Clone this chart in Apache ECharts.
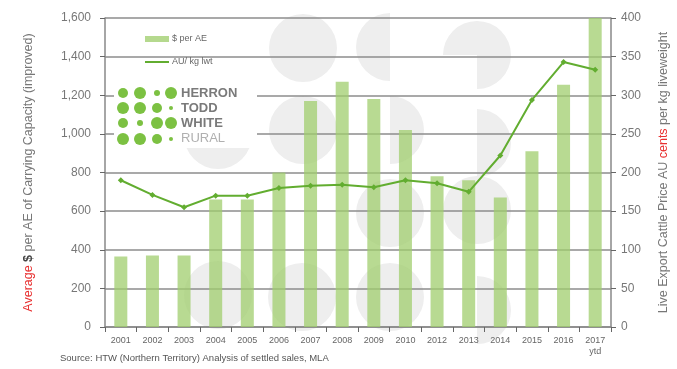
<!DOCTYPE html>
<html><head><meta charset="utf-8">
<script src="https://cdn.jsdelivr.net/npm/echarts@6/dist/echarts.min.js"></script>
<style>html,body{margin:0;padding:0;background:#fff}#c{width:677px;height:369px}</style>
</head><body><div id="c"></div>
<script>
const categories = ['2001','2002','2003','2004','2005','2006','2007','2008','2009','2010','2012','2013','2014','2015','2016','2017\nytd'];
const perAE = [365,370,370,660,660,800,1170,1270,1180,1020,780,760,670,910,1255,1600];
const auKg = [190,171,155,170,170,180,183,184,181,190,186,175,222,294,343,333];
const leftTicks = [0,200,400,600,800,1000,1200,1400,1600];
const rightTicks = [0,50,100,150,200,250,300,350,400];

const chart = echarts.init(document.getElementById('c'));
const G = '#62ad30';
const PI = Math.PI;
const dots = [];
const dotPos = [[123,93],[140,93],[157,93],[171,93],[123,108],[140,108],[157,108],[171,108],[123,123],[140,123],[157,123],[171,123],[123,139],[140,139],[157,139],[171,139]];
const rads = [5,6,3,6,6,6,5,2,5,3,6,6,6,6,5,2];
dotPos.forEach((p,i)=>dots.push({type:'circle',shape:{cx:p[0],cy:p[1],r:rads[i]},style:{fill:'#7cc142'},z:20}));
const wmDef = [[303,48,0,2*PI],[390,47,PI/2,3*PI/2],[477,55,PI,2.5*PI],
  [218,135,0,2*PI],[303,130,0,2*PI],[390,130,-PI/2,PI/2],[477,143,-PI/2,PI/2],
  [390,213,0,2*PI],[477,210,0,2*PI],
  [218,295,0,2*PI],[302,297,0,2*PI],[390,297,0,2*PI],[477,310,-PI/2,PI/2]];
const wm = wmDef.map(c=>({type:'sector',shape:{cx:c[0],cy:c[1],r0:0,r:34,startAngle:c[2],endAngle:c[3],clockwise:true},style:{fill:'#eeeeee'},z:-10,silent:true}));
chart.setOption({
  animation:false,
  textStyle:{fontFamily:'Liberation Sans, Arial, sans-serif'},
  grid:{left:105,right:66,top:18,bottom:42,outerBoundsMode:'none',containLabel:false},
  legend:{show:false},
  graphic:[].concat(wm,[
    {type:'rect',shape:{x:114,y:84,width:143,height:64},style:{fill:'#fff'},z:15},
    {type:'rect',shape:{x:145,y:36,width:24,height:6},style:{fill:'#b5d98e'},z:20},
    {type:'text',style:{x:172,y:39,text:'$ per AE',fill:'#666',font:'9px Liberation Sans',verticalAlign:'middle'},z:20},
    {type:'line',shape:{x1:145,y1:62,x2:169,y2:62},style:{stroke:G,lineWidth:2},z:20},
    {type:'text',style:{x:172,y:62,text:'AU/ kg lwt',fill:'#666',font:'9px Liberation Sans',verticalAlign:'middle'},z:20},
    {type:'text',style:{x:181,y:87,text:'HERRON',fill:'#7a7a7a',font:'bold 13px Liberation Sans'},z:20},
    {type:'text',style:{x:181,y:102,text:'TODD',fill:'#7a7a7a',font:'bold 13px Liberation Sans'},z:20},
    {type:'text',style:{x:181,y:117,text:'WHITE',fill:'#7a7a7a',font:'bold 13px Liberation Sans'},z:20},
    {type:'text',style:{x:181,y:132,text:'RURAL',fill:'#b0b0b0',font:'13px Liberation Sans'},z:20},
    {type:'text',style:{x:60,y:353,text:'Source: HTW (Northern Territory) Analysis of settled sales, MLA',fill:'#555',font:'9.5px Liberation Sans'},z:20}
  ], dots),
  xAxis:{type:'category',data:categories,
    axisLine:{lineStyle:{color:'#888',width:1.5}},
    axisTick:{show:true,lineStyle:{color:'#666'}},
    axisLabel:{color:'#666',fontSize:9,interval:0,margin:8,lineHeight:11}},
  yAxis:[
    {type:'value',min:0,max:1600,interval:200,
     axisLine:{show:true,lineStyle:{color:'#888',width:1.5}},
     axisTick:{show:true,inside:false,length:5,lineStyle:{color:'#666'}},
     axisLabel:{color:'#777',fontSize:12,margin:14,formatter:v=>v.toLocaleString('en-US')},
     splitLine:{lineStyle:{color:'#8c8c8c',width:1.5}},
     name:'{r|Average} {k|$} per AE of Carrying Capacity (improved)',nameLocation:'middle',nameRotate:90,nameGap:70,
     nameTextStyle:{color:'#777',fontSize:12.5,rich:{r:{color:'#e83030',fontSize:12.5},k:{color:'#444',fontSize:12.5,fontWeight:'bold'}}}},
    {type:'value',min:0,max:400,interval:50,
     axisLine:{show:true,lineStyle:{color:'#888',width:1.5}},
     axisTick:{show:true,length:5,lineStyle:{color:'#666'}},
     axisLabel:{color:'#777',fontSize:12,margin:10},
     splitLine:{show:false},
     name:'Live Export Cattle Price AU {r|cents} per kg liveweight',nameLocation:'middle',nameRotate:90,nameGap:46,
     nameTextStyle:{color:'#777',fontSize:12.5,rich:{r:{color:'#e83030',fontSize:12.5}}}}
  ],
  series:[
    {name:'$ per AE',type:'bar',data:perAE,barWidth:13,itemStyle:{color:'rgba(160,206,110,0.75)'},z:2},
    {name:'AU/ kg lwt',type:'line',yAxisIndex:1,data:auKg,symbol:'diamond',symbolSize:6,
     lineStyle:{color:G,width:2},itemStyle:{color:G},z:3}
  ]
});
</script></body></html>
